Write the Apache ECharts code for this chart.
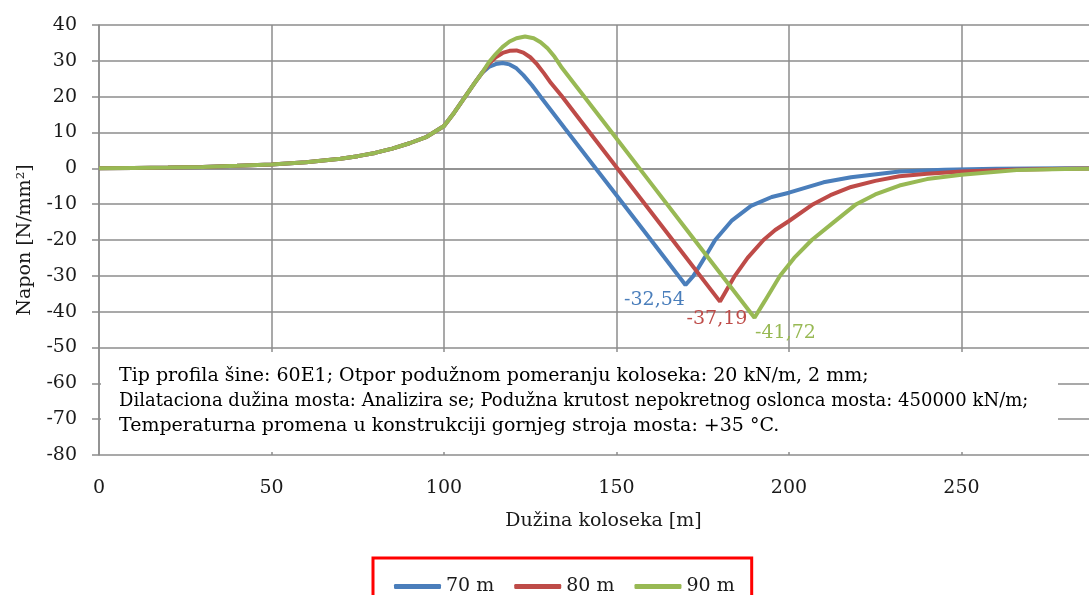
<!DOCTYPE html>
<html>
<head>
<meta charset="utf-8">
<script src="https://cdn.jsdelivr.net/npm/echarts@6/dist/echarts.min.js"></script>
<style>
  html, body { margin: 0; padding: 0; background: #fff; }
  #chart { width: 1089px; height: 595px; }
</style>
</head>
<body>
<div id="chart"></div>
<script>
// zajednicki deo krive (0 - 111 m), isti za sve tri duzine
var rise = [[0,0],[10,0.1],[20,0.2],[30,0.4],[40,0.7],[50,1.1],[60,1.7],[70,2.7],[75,3.4],[80,4.3],
    [85,5.5],[90,7.0],[95,8.8],[100,11.8],[103,15.6],[106,19.8],[109,24.0],[111,26.6]];

var tail70 = [[113,28.3],[115,29.1],[117,29.4],[119,29.0],[121,27.9],[123,26.0],[125.5,23.2],[128,20.0],
    [135,11.2],[143.5,0.6],[150,-7.5],[160,-20.0],[170,-32.54],[172.3,-30],[175.5,-25],[178.6,-20],
    [183.5,-14.5],[189,-10.5],[195,-8.0],[200,-6.8],[210,-3.9],[218,-2.5],[232,-0.9],[245,-0.4],
    [260,-0.1],[280,0],[300,0]];

var tail80 = [[113,29.2],[115,31.0],[117,32.2],[119,32.8],[121,32.9],[123,32.3],[125,31.0],[127,29.0],
    [129,26.5],[131,23.8],[134,20.3],[140,12.8],[150,0.3],[160,-12.2],[170,-24.7],[180,-37.19],
    [184.3,-30],[188,-25],[192.6,-20],[196,-17.2],[200,-14.7],[207,-10],[212,-7.5],[218,-5.2],
    [225,-3.5],[232,-2.2],[240,-1.5],[250,-0.9],[265,-0.4],[280,-0.1],[300,0]];

var tail90 = [[113,29.6],[115,31.9],[117,33.9],[119,35.4],[121,36.3],[123.5,36.8],[126,36.3],[128,35.2],
    [130,33.5],[132,31.2],[134,28.3],[140,20.8],[150,8.3],[160,-4.2],[170,-16.7],[180,-29.2],
    [190,-41.72],[193,-37],[197.4,-30],[201.5,-25],[206.6,-20],[213,-15],[219.5,-10],[225,-7.3],
    [232,-4.8],[240,-3.0],[250,-1.8],[266,-0.5],[280,-0.2],[300,0]];

var names = ['70 m', '80 m', '90 m'];
var colors = ['#4a7ebb', '#be4b48', '#98b954'];
var labelOffsets = [[-31, 15], [-3, 17], [31, 15]];

var noteLines = [
    'Tip profila šine: 60E1; Otpor podužnom pomeranju koloseka: 20 kN/m, 2 mm;',
    'Dilataciona dužina mosta: Analizira se; Podužna krutost nepokretnog oslonca mosta: 450000 kN/m;',
    'Temperaturna promena u konstrukciji gornjeg stroja mosta: +35 °C.'
];

var FONT = '"DejaVu Serif", "Liberation Serif", serif';
var gridColor = '#8c8c8c';

function minPoint(arr) {
    return arr.reduce(function (a, b) { return b[1] < a[1] ? b : a; });
}

var tails = [tail70, tail80, tail90];
var series = tails.map(function (t, i) {
    var data = rise.concat(t);
    var m = minPoint(data);
    return {
        name: names[i],
        type: 'line',
        data: data,
        symbol: 'none',
        smooth: false,
        lineStyle: { width: 4, color: colors[i] },
        itemStyle: { color: colors[i] },
        markPoint: {
            symbol: 'circle',
            symbolSize: 0,
            data: [{ coord: m, value: m[1] }],
            label: {
                show: true,
                formatter: m[1].toFixed(2).replace('.', ','),
                offset: labelOffsets[i],
                color: colors[i],
                fontSize: 19,
                fontFamily: FONT
            }
        }
    };
});

var myChart = echarts.init(document.getElementById('chart'));
var option = {
    animation: false,
    backgroundColor: '#fff',
    // plot sira od prozora: 300 m pada van slike, kao na originalu
    grid: { left: 99, top: 25, width: 1035, height: 430, containLabel: false, outerBoundsMode: 'none' },
    xAxis: {
        type: 'value',
        min: 0, max: 300, interval: 50,
        name: 'Dužina koloseka [m]',
        nameLocation: 'middle',
        nameGap: 57,
        nameTextStyle: { fontFamily: FONT, fontSize: 19, color: '#1a1a1a', padding: [0, 26, 0, 0] },
        axisLine: { show: true, lineStyle: { color: gridColor, width: 1.5 } },
        axisTick: { show: false },
        axisLabel: { margin: 24, fontFamily: FONT, fontSize: 19, color: '#1a1a1a' },
        splitLine: { show: true, lineStyle: { color: gridColor, width: 1.5 } }
    },
    yAxis: {
        type: 'value',
        min: -80, max: 40, interval: 10,
        name: 'Napon [N/mm²]',
        nameLocation: 'middle',
        nameGap: 64,
        nameTextStyle: { fontFamily: FONT, fontSize: 19, color: '#1a1a1a' },
        axisLine: { show: true, lineStyle: { color: gridColor, width: 1.5 } },
        axisTick: { show: true, length: 7, lineStyle: { color: gridColor, width: 1.5 } },
        axisLabel: { margin: 22, fontFamily: FONT, fontSize: 19, color: '#1a1a1a' },
        splitLine: { show: true, lineStyle: { color: gridColor, width: 1.5 } }
    },
    legend: {
        data: names,
        left: 373,
        top: 558,
        orient: 'horizontal',
        icon: 'roundRect',
        itemWidth: 47,
        itemHeight: 5,
        itemGap: 20,
        padding: [19, 17, 30, 21],
        borderColor: '#ff0000',
        borderWidth: 3,
        textStyle: { fontFamily: FONT, fontSize: 19, color: '#1a1a1a' }
    },
    graphic: [
        {
            type: 'rect',
            z: 5,
            shape: { x: 101, y: 352, width: 957, height: 100 },
            style: { fill: '#fff' }
        },
        {
            type: 'text',
            z: 6,
            x: 119,
            y: 364,
            style: {
                text: '{a|' + noteLines[0] + '}\n{b|' + noteLines[1] + '}\n{a|' + noteLines[2] + '}',
                rich: {
                    a: { fontFamily: FONT, fontSize: 19, lineHeight: 25, color: '#1a1a1a' },
                    b: { fontFamily: FONT, fontSize: 18, lineHeight: 25, color: '#1a1a1a' }
                }
            }
        }
    ],
    series: series
};

if (option && typeof option === 'object') {
    myChart.setOption(option, true);
}
</script>
</body>
</html>
